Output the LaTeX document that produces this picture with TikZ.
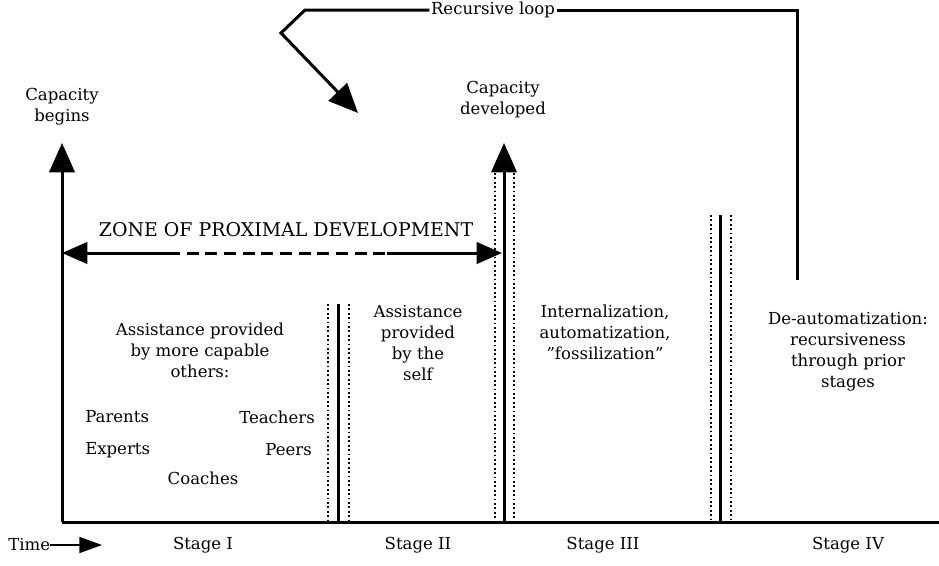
\documentclass[tikz,border=0pt]{standalone}
\usepackage{fontspec}
\setmainfont{DejaVu Serif}
\usetikzlibrary{arrows.meta}
\begin{document}
\begin{tikzpicture}[x=0.75pt,y=-0.75pt,
  lbl/.style={inner sep=0pt, align=center, font=\fontsize{12.4}{15.75}\selectfont},
  zpdlbl/.style={inner sep=0pt, font=\fontsize{14.2}{16}\selectfont},
  heavy/.style={line width=2.25pt},
  dots/.style={line width=1.4pt, dash pattern=on 1.4pt off 1.9pt},
  bigtip/.style={-{Triangle[length=22pt,width=19pt]}},
  smalltip/.style={-{Triangle[length=17pt,width=12pt]}},
  dashseg/.style={heavy, dash pattern=on 9pt off 5pt}
]
\useasboundingbox (0,0) rectangle (939,565);

% axes
\coordinate (O) at (62,522);
\coordinate (E) at (939,522);
\coordinate (Ytop) at (62,143);
\draw[heavy] (O) -- (E);
\draw[heavy, bigtip] (O) -- (Ytop);
\node[lbl] (begins) at (62,107) {Capacity\\begins};

% divider I/II
\coordinate (d1t) at (338,304); \coordinate (d1b) at (338,522);
\draw[dots] (328,304) -- (328,520);
\draw[dots] (349,304) -- (349,520);
\draw[heavy] (d1t) -- (d1b);

% divider II/III with arrow
\coordinate (d2t) at (504,143); \coordinate (d2b) at (504,522);
\draw[dots] (495,173) -- (495,520);
\draw[dots] (514,173) -- (514,520);
\draw[heavy, bigtip] (d2b) -- (d2t);
\node[lbl] (developed) at (503,100) {Capacity\\developed};

% divider III/IV
\coordinate (d3t) at (720,215); \coordinate (d3b) at (720,522);
\draw[dots] (711,215) -- (711,520);
\draw[dots] (731,215) -- (731,520);
\draw[heavy] (d3t) -- (d3b);

% ZPD arrow
\coordinate (zl) at (62,253);
\coordinate (z1) at (168,253);
\coordinate (z2) at (387,253);
\coordinate (zr) at (502,253);
\draw[heavy, {Triangle[length=19pt,width=16pt]}-] (zl) -- (z1);
\draw[dashseg] (z1) -- (z2);
\draw[heavy, -{Triangle[length=19pt,width=16pt]}] (z2) -- (zr);
\node[zpdlbl] (zpd) at (286,230) {ZONE OF PROXIMAL DEVELOPMENT};

% recursive loop
\node[lbl, inner xsep=1pt] (loop) at (493,10) {Recursive loop};
\coordinate (r0) at (797,280);
\coordinate (r1) at (797,10);
\coordinate (l1) at (305,10);
\coordinate (l2) at (281,33);
\coordinate (l3) at (358,113);
\draw[heavy] (r0) -- (r1) -- (loop.east);
\draw[heavy, bigtip] (loop.west) -- (l1) -- (l2) -- (l3);

% text blocks
\node[lbl] (s1) at (200,350) {Assistance provided\\by more capable\\others:};
\node[lbl] (s2) at (418,343) {Assistance\\provided\\by the\\self};
\node[lbl] (s3) at (605,332) {Internalization,\\automatization,\\\symbol{34}fossilization\symbol{34}};
\node[lbl] (s4) at (848,352) {De-automatization:\\recursiveness\\through prior\\stages};

\node[lbl, anchor=west] (parents) at (85,417) {Parents};
\node[lbl, anchor=east] (teachers) at (315,417) {Teachers};
\node[lbl, anchor=west] (experts) at (85,450) {Experts};
\node[lbl, anchor=east] (peers) at (312,450) {Peers};
\node[lbl] (coaches) at (203,478) {Coaches};

% time axis labels
\node[lbl, anchor=west] (time) at (8,545) {Time};
\coordinate (tarrow) at (102,545);
\draw[line width=1.2pt, smalltip] (time.east) -- (tarrow);
\node[lbl] (st1) at (203,545) {Stage I};
\node[lbl] (st2) at (418,545) {Stage II};
\node[lbl] (st3) at (603,545) {Stage III};
\node[lbl] (st4) at (848,545) {Stage IV};
\end{tikzpicture}
\end{document}
